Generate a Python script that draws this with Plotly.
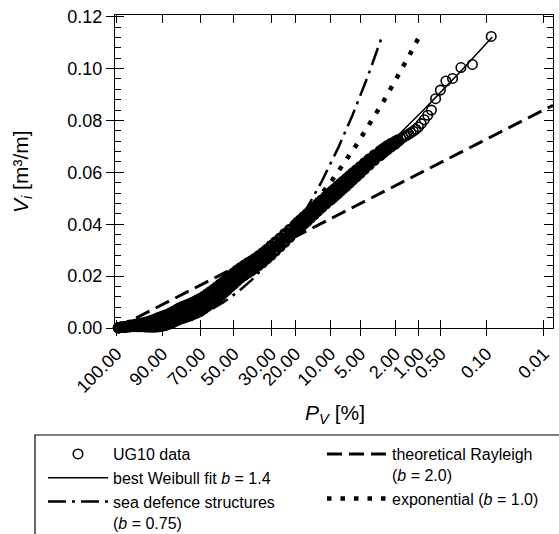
import numpy as np
import plotly.graph_objects as go

# ---------------- data ----------------
# x-axis tick positions: exceedance probability P_V [%]
P_TICKS = [100, 90, 70, 50, 30, 20, 10, 5, 2, 1, 0.5, 0.1, 0.01]
P_TICK_TEXT = ["100.00", "90.00", "70.00", "50.00", "30.00", "20.00", "10.00",
               "5.00", "2.00", "1.00", "0.50", "0.10", "0.01"]
Y_TICKS = [0.00, 0.02, 0.04, 0.06, 0.08, 0.10, 0.12]
Y_TICK_TEXT = ["0.00", "0.02", "0.04", "0.06", "0.08", "0.10", "0.12"]

# UG10 data, dense band: probability [%] and the band's upper / middle / lower circles
P_band = [99.98, 99.9, 99.7, 99.5, 99.2, 99, 98.5, 98, 97.5, 97, 96, 95, 94, 93, 92, 91,
          90, 89, 88, 87, 86, 85, 84, 83, 82, 81, 80, 79, 78, 77, 76, 75, 74, 73, 72, 71,
          70, 68, 66, 64, 62, 60, 58, 56, 54, 52, 50, 48, 46, 44, 42, 40, 38, 36, 34, 32,
          30, 28, 26, 24, 22, 20, 19, 18, 17, 16, 15, 14, 13, 12, 11, 10, 9.5, 9, 8.5, 8,
          7.5, 7, 6.5, 6, 5.5, 5, 4.5, 4, 3.5, 3, 2.75, 2.5, 2.25, 2.0, 1.84]
V_band_upper = [0.0001, 0.0003, 0.0004, 0.0006, 0.0009, 0.0010, 0.0012, 0.0014, 0.0016, 0.0018,
                0.0021, 0.0025, 0.0029, 0.0033, 0.0037, 0.0041, 0.0044, 0.0048, 0.0051, 0.0054,
                0.0059, 0.0063, 0.0067, 0.0072, 0.0076, 0.0079, 0.0083, 0.0085, 0.0088, 0.0090,
                0.0094, 0.0097, 0.0100, 0.0103, 0.0107, 0.0110, 0.0114, 0.0122, 0.0131, 0.0140,
                0.0149, 0.0159, 0.0169, 0.0179, 0.0190, 0.0201, 0.0212, 0.0222, 0.0232, 0.0241,
                0.0250, 0.0258, 0.0268, 0.0278, 0.0290, 0.0302, 0.0317, 0.0331, 0.0346, 0.0363,
                0.0380, 0.0398, 0.0408, 0.0418, 0.0429, 0.0440, 0.0452, 0.0465, 0.0478, 0.0492,
                0.0506, 0.0521, 0.0529, 0.0537, 0.0546, 0.0556, 0.0565, 0.0575, 0.0586, 0.0597,
                0.0609, 0.0621, 0.0636, 0.0651, 0.0667, 0.0683, 0.0692, 0.0701, 0.0710, 0.0719,
                0.0725]
V_band_mid = [0.0001, 0.0003, 0.0004, 0.0005, 0.0007, 0.0008, 0.0009, 0.0010, 0.0011, 0.0012,
              0.0013, 0.0014, 0.0015, 0.0017, 0.0020, 0.0023, 0.0026, 0.0029, 0.0032, 0.0035,
              0.0039, 0.0043, 0.0047, 0.0051, 0.0055, 0.0058, 0.0061, 0.0063, 0.0066, 0.0068,
              0.0071, 0.0074, 0.0077, 0.0080, 0.0083, 0.0086, 0.0089, 0.0098, 0.0107, 0.0116,
              0.0126, 0.0136, 0.0146, 0.0157, 0.0168, 0.0179, 0.0191, 0.0202, 0.0212, 0.0222,
              0.0232, 0.0240, 0.0250, 0.0260, 0.0272, 0.0285, 0.0299, 0.0314, 0.0330, 0.0347,
              0.0365, 0.0384, 0.0394, 0.0404, 0.0415, 0.0426, 0.0438, 0.0451, 0.0464, 0.0478,
              0.0492, 0.0507, 0.0515, 0.0523, 0.0532, 0.0542, 0.0551, 0.0561, 0.0572, 0.0584,
              0.0596, 0.0609, 0.0624, 0.0640, 0.0657, 0.0674, 0.0684, 0.0694, 0.0704, 0.0714,
              0.0722]
V_band_lower = [0.0001, 0.0003, 0.0004, 0.0004, 0.0005, 0.0006, 0.0006, 0.0006, 0.0006, 0.0006,
                0.0005, 0.0004, 0.0004, 0.0004, 0.0005, 0.0006, 0.0008, 0.0010, 0.0013, 0.0016,
                0.0019, 0.0023, 0.0027, 0.0030, 0.0034, 0.0037, 0.0039, 0.0041, 0.0044, 0.0046,
                0.0048, 0.0051, 0.0054, 0.0057, 0.0060, 0.0063, 0.0066, 0.0075, 0.0084, 0.0094,
                0.0104, 0.0114, 0.0124, 0.0135, 0.0146, 0.0158, 0.0170, 0.0182, 0.0193, 0.0203,
                0.0212, 0.0221, 0.0231, 0.0242, 0.0254, 0.0267, 0.0281, 0.0297, 0.0314, 0.0331,
                0.0350, 0.0370, 0.0380, 0.0390, 0.0401, 0.0412, 0.0424, 0.0437, 0.0450, 0.0464,
                0.0478, 0.0493, 0.0501, 0.0509, 0.0518, 0.0528, 0.0537, 0.0547, 0.0558, 0.0571,
                0.0583, 0.0597, 0.0612, 0.0629, 0.0647, 0.0665, 0.0676, 0.0687, 0.0698, 0.0709,
                0.0719]
# UG10 data, the largest events (individual circles)
P_top = [1.68, 1.596, 1.512, 1.428, 1.344, 1.26, 1.176, 1.092, 1.008, 0.924, 0.84, 0.756,
         0.672, 0.588, 0.504, 0.42, 0.336, 0.252, 0.168, 0.084]
V_top = [0.0729, 0.0735, 0.0739, 0.0743, 0.0748, 0.0753, 0.0759, 0.0766, 0.0775, 0.0788,
         0.0803, 0.0820, 0.0840, 0.0884, 0.0917, 0.0952, 0.0962, 0.1004, 0.1016, 0.1124]

# Weibull model curves V = a * (-ln(P/100))^(1/b): shape b, scale a [m3/m]
B_FIT, A_FIT = 1.4, 0.0276
B_RAY, A_RAY = 2.0, 0.0277
B_EXP, A_EXP = 1.0, 0.0243
B_SEA, A_SEA = 0.75, 0.0207
V_MAX = 0.1124          # curves drawn up to the largest observed volume

X_RANGE = [-0.0107, 3.10]
Y_RANGE = [0.0, 0.12066]


def to_axis(p):
    """Weibull (Rayleigh) probability-paper abscissa for probability p in %."""
    p = np.asarray(p, dtype=float) / 100.0
    return np.sqrt(np.clip(-np.log(p), 0, None))


def weibull_curve(a, b):
    xg = np.linspace(0.0, X_RANGE[1], 800)
    pg = 100.0 * np.exp(-xg ** 2)
    v = a * np.clip(-np.log(pg / 100.0), 0, None) ** (1.0 / b)
    keep = v <= V_MAX + 1e-9
    return to_axis(pg[keep]), v[keep]


FONT = "Liberation Sans, Arial, Helvetica, sans-serif"

fig = go.Figure()

# dense part of the sample: heavily overlapping circles print almost solid black
P_dense = P_band + P_band + P_band
V_dense = V_band_upper + V_band_mid + V_band_lower
fig.add_trace(go.Scatter(
    x=to_axis(P_dense), y=V_dense, mode="markers", name="UG10 data",
    marker=dict(symbol="circle-open", size=8, color="black", line=dict(width=3.6)),
    cliponaxis=False, legendgroup="ug10", showlegend=False, legend="legend"))
fig.add_trace(go.Scatter(
    x=to_axis(P_top), y=V_top, mode="markers", name="UG10 data",
    marker=dict(symbol="circle-open", size=9.5, color="black", line=dict(width=1.6)),
    cliponaxis=False, legendgroup="ug10", legend="legend", legendrank=1))

x, v = weibull_curve(A_FIT, B_FIT)
fig.add_trace(go.Scatter(x=x, y=v, mode="lines", name="best Weibull fit <i>b</i> = 1.4",
                         line=dict(color="black", width=1.5), legend="legend", legendrank=2))

x, v = weibull_curve(A_SEA, B_SEA)
fig.add_trace(go.Scatter(x=x, y=v, mode="lines",
                         name="sea defence structures<br>(<i>b</i> = 0.75)",
                         line=dict(color="black", width=2.5, dash="18px,6px,3px,6px"),
                         legend="legend", legendrank=3))

x, v = weibull_curve(A_RAY, B_RAY)
fig.add_trace(go.Scatter(x=x, y=v, mode="lines",
                         name="theoretical Rayleigh<br>(<i>b</i> = 2.0)",
                         line=dict(color="black", width=3, dash="15px,7px"),
                         legend="legend2", legendrank=1))

x, v = weibull_curve(A_EXP, B_EXP)
fig.add_trace(go.Scatter(x=x, y=v, mode="lines", name="exponential (<i>b</i> = 1.0)",
                         line=dict(color="black", width=4.5, dash="4.5px,9px"),
                         legend="legend2", legendrank=2))

# invisible trace carrying the overlay axes (inside ticks / frame)
fig.add_trace(go.Scatter(x=[None], y=[None], xaxis="x2", yaxis="y2",
                         showlegend=False, hoverinfo="skip"))

tick_x = to_axis(P_TICKS)

fig.update_layout(
    width=559, height=534,
    margin=dict(l=115, r=6, t=15, b=206, pad=0, autoexpand=False),
    paper_bgcolor="white", plot_bgcolor="white",
    font=dict(family=FONT, color="black", size=16),
    xaxis=dict(range=X_RANGE, autorange=False, tickmode="array", tickvals=tick_x,
               ticktext=P_TICK_TEXT, tickangle=-45, ticks="outside", ticklen=7,
               tickwidth=1.2, tickcolor="black", showline=True, linecolor="black",
               linewidth=1.2, mirror=False, showgrid=False, zeroline=False,
               automargin=False, tickfont=dict(size=18, family=FONT)),
    yaxis=dict(range=Y_RANGE, autorange=False, tickmode="array", tickvals=Y_TICKS,
               ticktext=Y_TICK_TEXT, ticks="outside", ticklen=8, tickwidth=1.2,
               tickcolor="black", showline=True, linecolor="black", linewidth=1.2,
               mirror=False, showgrid=False, zeroline=False, automargin=False,
               tickfont=dict(size=18, family=FONT)),
    xaxis2=dict(overlaying="x", anchor="y2", range=X_RANGE, autorange=False,
                tickmode="array", tickvals=tick_x, ticks="inside", ticklen=8,
                tickwidth=1.2, tickcolor="black", showticklabels=False,
                showline=True, linecolor="black", linewidth=1.2, mirror="ticks",
                showgrid=False, zeroline=False, automargin=False),
    yaxis2=dict(overlaying="y", anchor="x2", range=Y_RANGE, autorange=False,
                tickmode="array", tickvals=Y_TICKS, ticks="inside", ticklen=9,
                tickwidth=1.2, tickcolor="black", showticklabels=False,
                showline=True, linecolor="black", linewidth=1.2, mirror="ticks",
                showgrid=False, zeroline=False, automargin=False,
                minor=dict(dtick=0.004, tick0=0, ticks="inside", ticklen=6,
                           tickwidth=1, tickcolor="black")),
    legend=dict(xref="container", yref="container", x=0.0769, y=0.1816,
                xanchor="left", yanchor="top", bgcolor="rgba(0,0,0,0)",
                borderwidth=0, valign="top", font=dict(size=16, family=FONT),
                tracegroupgap=0, itemwidth=60),
    legend2=dict(xref="container", yref="container", x=0.576, y=0.1816,
                 xanchor="left", yanchor="top", bgcolor="rgba(0,0,0,0)",
                 borderwidth=0, valign="top", font=dict(size=16, family=FONT),
                 tracegroupgap=0, itemwidth=60),
    showlegend=True,
)

# legend frame (runs off the right and bottom edges as in the reference)
fig.add_shape(type="rect", xref="paper", yref="paper",
              x0=(35 - 115) / 438, x1=2.0, y0=(328 - 435) / 313, y1=-2.0,
              line=dict(color="black", width=1.2), fillcolor="rgba(0,0,0,0)", layer="above")

fig.add_annotation(text="<i>P</i><sub><i>V</i></sub> [%]", xref="paper", yref="paper",
                   x=(335 - 115) / 438, y=(328 - 414) / 313, showarrow=False,
                   xanchor="center", yanchor="middle", font=dict(size=21, family=FONT))
fig.add_annotation(text="<i>V</i><sub><i>i</i></sub> [m³/m]", xref="paper", yref="paper",
                   x=(22 - 115) / 438, y=(328 - 172) / 313, showarrow=False, textangle=-90,
                   xanchor="center", yanchor="middle", font=dict(size=21, family=FONT))

fig.write_html("out.html")
